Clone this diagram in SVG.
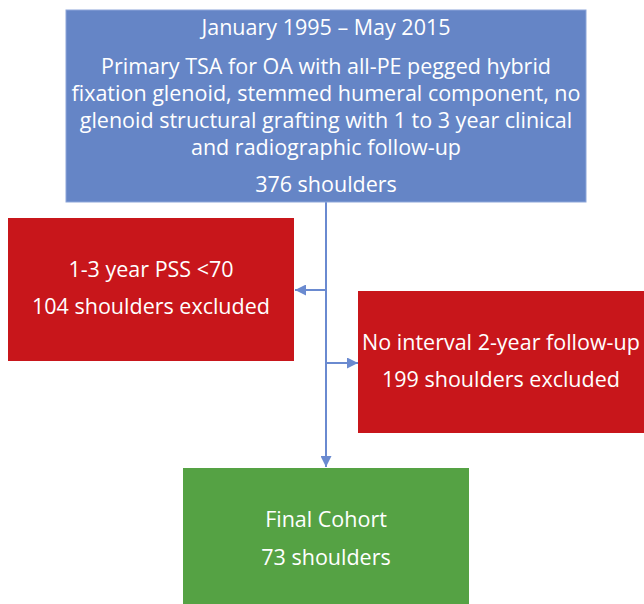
<svg xmlns="http://www.w3.org/2000/svg" width="644" height="604" viewBox="0 0 644 604">
<style>
text{font-family:"Open Sans","Liberation Sans",sans-serif;fill:#fff;text-anchor:middle;font-size:21.5px}
.blue{fill:#6585C6;stroke:#8DA6DA;stroke-width:1}
.red{fill:#C8161B}
.green{fill:#55A244}
.conn{stroke:#6A8AD0;stroke-width:2;fill:none}
</style>
<defs>
<marker id="ah" viewBox="0 0 10 10" refX="10" refY="5" markerWidth="5.5" markerHeight="5.5" orient="auto" markerUnits="strokeWidth">
<path d="M0,0 L10,5 L0,10 z" fill="#6A8AD0"/>
</marker>
</defs>
<g id="connectors">
<line class="conn" x1="326" y1="202" x2="326" y2="467" marker-end="url(#ah)"/>
<line class="conn" x1="326" y1="290" x2="295" y2="290" marker-end="url(#ah)"/>
<line class="conn" x1="326" y1="363" x2="358" y2="363" marker-end="url(#ah)"/>
</g>
<g id="node-start">
<rect class="blue" x="66" y="10" width="520" height="192"/>
<text x="326" y="35">January 1995 – May 2015</text>
<text x="326" y="74">Primary TSA for OA with all-PE pegged hybrid</text>
<text x="326" y="101">fixation glenoid, stemmed humeral component, no</text>
<text x="326" y="128">glenoid structural grafting with 1 to 3 year clinical</text>
<text x="326" y="155">and radiographic follow-up</text>
<text x="326" y="192">376 shoulders</text>
</g>
<g id="node-excl1">
<rect class="red" x="8" y="218" width="286" height="143"/>
<text x="151" y="277">1-3 year PSS &lt;70</text>
<text x="151" y="314">104 shoulders excluded</text>
</g>
<g id="node-excl2">
<rect class="red" x="358" y="291" width="286" height="142"/>
<text x="501" y="350">No interval 2-year follow-up</text>
<text x="501" y="387">199 shoulders excluded</text>
</g>
<g id="node-final">
<rect class="green" x="183" y="468" width="286" height="136"/>
<text x="326" y="527">Final Cohort</text>
<text x="326" y="565">73 shoulders</text>
</g>
</svg>
